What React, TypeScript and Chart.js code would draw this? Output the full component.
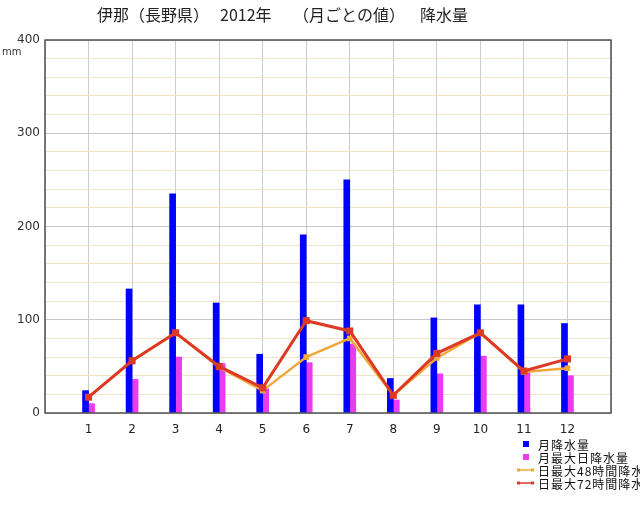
import React, { useEffect, useRef } from 'react';
import { Chart, registerables } from 'chart.js';

Chart.register(...registerables);

const months = [1, 2, 3, 4, 5, 6, 7, 8, 9, 10, 11, 12];
const monthlyPrecip = [24, 133, 235, 118, 63, 191, 250, 37, 102, 116, 116, 96];
const maxDaily = [10, 36, 60, 53, 26, 54, 74, 14, 42, 61, 44, 40];
const max48h = [17, 56, 86, 49, 24, 60, 80, 19, 59, 86, 44, 48];
const max72h = [17, 56, 86, 50, 27, 99, 88, 19, 64, 86, 45, 58];
const yTickLabels = [0, 100, 200, 300, 400];
const titleParts = ['伊那（長野県）', '2012年', '（月ごとの値）', '降水量'];
const legendLabels = ['月降水量', '月最大日降水量', '日最大48時間降水量', '日最大72時間降水量'];

const BLUE = '#0000ff';
const MAGENTA = '#e83cf0';
const ORANGE = '#f0a83a';
const RED = '#dc3a24';

const overlay = {
  id: 'overlay',
  afterDraw(chart: any) {
    const ctx = chart.ctx;
    const a = chart.chartArea;
    ctx.save();
    // frame
    ctx.strokeStyle = '#505050';
    ctx.lineWidth = 1.5;
    ctx.strokeRect(a.left, a.top, a.right - a.left, a.bottom - a.top);
    // title
    ctx.fillStyle = '#222';
    ctx.font = '16px "Noto Sans CJK JP"';
    ctx.textBaseline = 'alphabetic';
    ctx.textAlign = 'left';
    const tx = [97, 220, 293, 420];
    titleParts.forEach((t, i) => ctx.fillText(t, tx[i], 21));
    // unit
    ctx.font = '10px "DejaVu Sans"';
    ctx.fillStyle = '#333';
    ctx.fillText('mm', 2, 55);
    // legend
    ctx.font = '12px "Noto Sans CJK JP"';
    try { (ctx as any).letterSpacing = '1px'; } catch (e) {}
    ctx.textBaseline = 'middle';
    const rows = [444, 457, 470, 483];
    const colors = [BLUE, MAGENTA, ORANGE, RED];
    rows.forEach((y, i) => {
      if (i < 2) {
        ctx.fillStyle = colors[i];
        ctx.fillRect(523, y - 3, 6, 6);
      } else {
        ctx.strokeStyle = colors[i];
        ctx.lineWidth = 1.5;
        ctx.beginPath();
        ctx.moveTo(518, y);
        ctx.lineTo(533, y);
        ctx.stroke();
        ctx.fillStyle = colors[i];
        ctx.fillRect(517, y - 1.5, 3, 3);
        ctx.fillRect(531, y - 1.5, 3, 3);
      }
      ctx.fillStyle = '#111';
      ctx.fillText(legendLabels[i], 538, y + 1);
    });
    try { (ctx as any).letterSpacing = '0px'; } catch (e) {}
    ctx.restore();
  },
};

export default function App() {
  const ref = useRef<HTMLCanvasElement>(null);
  useEffect(() => {
    document.body.style.margin = '0';
    const pts = (arr: number[]) => months.map((m, i) => ({ x: m, y: arr[i] }));
    const chart = new Chart(ref.current as HTMLCanvasElement, {
      type: 'bar',
      data: {
        datasets: [
          {
            type: 'bar',
            label: legendLabels[0],
            data: pts(monthlyPrecip),
            backgroundColor: BLUE,
            barThickness: 6,
            order: 3,
          },
          {
            type: 'bar',
            label: legendLabels[1],
            data: pts(maxDaily),
            backgroundColor: MAGENTA,
            barThickness: 6,
            order: 4,
          },
          {
            type: 'line',
            label: legendLabels[2],
            data: pts(max48h),
            borderColor: ORANGE,
            backgroundColor: ORANGE,
            borderWidth: 2.5,
            pointStyle: 'rect',
            pointRadius: 4,
            pointBorderWidth: 0,
            order: 2,
          },
          {
            type: 'line',
            label: legendLabels[3],
            data: pts(max72h),
            borderColor: RED,
            backgroundColor: RED,
            borderWidth: 3,
            pointStyle: 'rect',
            pointRadius: 5,
            pointBorderWidth: 0,
            order: 1,
          },
        ] as any,
      },
      options: {
        animation: false,
        responsive: false,
        layout: { padding: { left: 0, top: 40, right: 29, bottom: 0 } },
        plugins: {
          legend: { display: false },
          title: { display: false },
          tooltip: { enabled: false },
        },
        scales: {
          x: {
            type: 'linear',
            min: 0,
            max: 13,
            offset: false,
            afterFit: (s: any) => { s.height = 92; },
            grid: { color: '#cccccc', lineWidth: 1, drawTicks: false, offset: false },
            border: { display: false },
            ticks: {
              stepSize: 1,
              padding: 10,
              color: '#222',
              font: { family: 'DejaVu Sans', size: 12 },
              callback: (v: any) => (months.includes(v) ? String(v) : ''),
            },
          },
          y: {
            min: 0,
            max: 400,
            afterFit: (s: any) => { s.width = 45; },
            grid: {
              drawTicks: false,
              lineWidth: 1,
              color: (c: any) => (yTickLabels.includes(c.tick.value) ? '#c8c8c8' : '#f2e3c6'),
            },
            border: { display: false },
            ticks: {
              stepSize: 20,
              padding: 5,
              color: '#333',
              font: { family: 'DejaVu Sans', size: 12 },
              callback: (v: any) => (yTickLabels.includes(v) ? String(v) : ''),
            },
          },
        },
      },
      plugins: [overlay],
    });
    return () => chart.destroy();
  }, []);
  return <canvas ref={ref} width={640} height={505} style={{ display: 'block' }} />;
}
